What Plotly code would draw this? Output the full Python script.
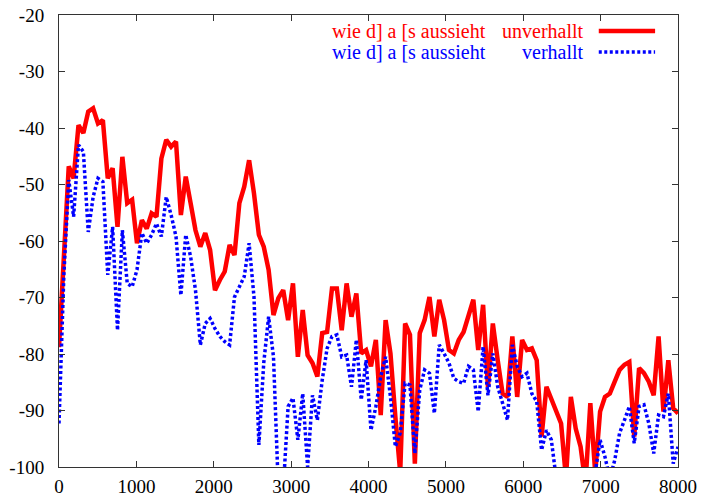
import plotly.graph_objects as go

# Frequency bins (Hz)
freq = [i * 63.0 for i in range(128)]

unverhallt = [
    -78.8, -62.0, -46.8, -48.9, -39.5, -40.9, -37.1, -36.5, -39.2, -38.6,
    -48.9, -47.1, -57.5, -45.1, -53.3, -52.7, -60.4, -56.3, -57.8, -55.1,
    -55.7, -45.4, -42.1, -43.3, -42.4, -55.4, -48.6, -53.3, -58.1, -61.0,
    -58.6, -61.6, -68.7, -66.9, -65.4, -60.7, -62.5, -53.3, -50.4, -45.7,
    -51.6, -58.9, -61.0, -65.1, -73.1, -70.1, -68.7, -74.0, -67.5, -80.5,
    -72.2, -80.2, -81.6, -84.0, -76.3, -76.1, -68.4, -68.4, -75.8, -67.5,
    -73.4, -69.3, -79.9, -79.3, -82.2, -77.5, -90.8, -74.0, -79.9, -91.1,
    -101.0, -74.6, -76.6, -99.4, -76.3, -74.0, -69.9, -76.9, -70.4, -74.0,
    -79.3, -79.9, -77.5, -76.1, -73.4, -70.4, -79.3, -71.3, -85.8, -74.6,
    -81.1, -87.0, -87.6, -76.9, -87.6, -77.5, -79.3, -79.0, -81.1, -94.6,
    -85.8, -88.1, -90.2, -92.3, -102.0, -87.6, -93.2, -96.4, -103.0, -88.7,
    -101.0, -90.2, -87.6, -87.0, -84.9, -82.8, -81.9, -81.4, -94.6, -82.5,
    -83.4, -84.9, -87.3, -76.9, -90.2, -81.1, -89.6, -90.5,
]

verhallt = [
    -92.3, -66.0, -49.2, -55.7, -43.0, -44.2, -58.4, -52.2, -48.9, -49.5,
    -66.0, -57.5, -75.8, -58.1, -67.5, -68.1, -65.1, -58.6, -60.4, -58.9,
    -56.9, -59.2, -52.2, -55.4, -59.2, -69.6, -58.9, -62.8, -68.7, -78.4,
    -74.6, -73.7, -75.5, -76.9, -77.8, -78.4, -69.9, -68.1, -66.3, -60.4,
    -69.9, -96.1, -81.6, -73.4, -80.5, -104.0, -104.0, -89.3, -87.8, -95.2,
    -87.0, -100.0, -87.3, -91.7, -84.6, -79.0, -76.9, -76.6, -80.5, -80.2,
    -85.8, -77.5, -88.1, -81.1, -93.5, -89.3, -84.0, -80.5, -87.6, -96.4,
    -94.0, -85.2, -85.5, -97.6, -86.4, -82.8, -83.4, -90.5, -78.4, -79.9,
    -81.6, -84.3, -84.9, -85.2, -82.2, -82.8, -90.2, -78.7, -87.3, -79.9,
    -85.8, -88.7, -91.7, -78.4, -82.2, -84.0, -83.4, -87.0, -88.4, -97.0,
    -93.5, -95.2, -102.0, -106.0, -108.0, -110.0, -110.0, -108.0, -106.0, -104.0,
    -101.0, -95.2, -98.2, -102.0, -98.8, -94.0, -91.7, -89.3, -95.8, -89.3,
    -89.0, -92.3, -97.6, -90.8, -91.1, -87.0, -99.4, -96.4,
]

x_ticks = [0, 1000, 2000, 3000, 4000, 5000, 6000, 7000, 8000]
y_ticks = [-20, -30, -40, -50, -60, -70, -80, -90, -100]
y_tick_text = ["-20", "-30", "-40", "-50", "-60", "-70", "-80", "-90", "-100"]

label_text = "wie d] a [s aussieht"
series_names = ["unverhallt", "verhallt"]

RED = "#ff0000"
BLUE = "#0000ff"
FONT = "'Liberation Serif', 'Times New Roman', Times, serif"

fig = go.Figure()
fig.add_trace(go.Scatter(x=freq, y=unverhallt, mode="lines",
                         line=dict(color=RED, width=4.5),
                         name=series_names[0], showlegend=False))
fig.add_trace(go.Scatter(x=freq, y=verhallt, mode="lines",
                         line=dict(color=BLUE, width=3.5, dash="3px,2.5px"),
                         name=series_names[1], showlegend=False))

axis_common = dict(showline=True, linecolor="#333333", linewidth=1, mirror="ticks",
                   ticks="inside", ticklen=6, tickcolor="#333333", showgrid=False,
                   zeroline=False, automargin=False, ticklabeloverflow="allow",
                   tickfont=dict(family=FONT, size=19, color="black"))

fig.update_xaxes(range=[0, 8000], tickvals=x_ticks,
                 ticktext=[str(v) for v in x_ticks], ticklabelstandoff=2, **axis_common)
fig.update_yaxes(range=[-100, -20], tickvals=y_ticks, ticktext=y_tick_text,
                 ticklabelstandoff=10, **axis_common)

# gnuplot-style key (text right-aligned, sample on the right)
rows = [(0.9646, RED, series_names[0], None), (0.918, BLUE, series_names[1], "3px,2.5px")]
for ypos, col, nm, dash in rows:
    fig.add_annotation(xref="paper", yref="paper", x=0.693, y=ypos, text=label_text,
                       showarrow=False, xanchor="right", yanchor="middle",
                       font=dict(family=FONT, size=20, color=col))
    fig.add_annotation(xref="paper", yref="paper", x=0.851, y=ypos, text=nm,
                       showarrow=False, xanchor="right", yanchor="middle",
                       font=dict(family=FONT, size=20, color=col))
    fig.add_shape(type="line", xref="paper", yref="paper", x0=0.872, x1=0.963,
                  y0=ypos, y1=ypos,
                  line=dict(color=col, width=4.5 if dash is None else 3.5,
                            dash=dash if dash else "solid"))

fig.update_layout(width=705, height=497, margin=dict(l=59, r=27, t=15, b=30),
                  plot_bgcolor="white", paper_bgcolor="white", showlegend=False,
                  font=dict(family=FONT))

fig.write_html("out.html", config={"displayModeBar": False},
               post_script="document.body.style.margin='0';document.body.style.overflow='hidden';")
